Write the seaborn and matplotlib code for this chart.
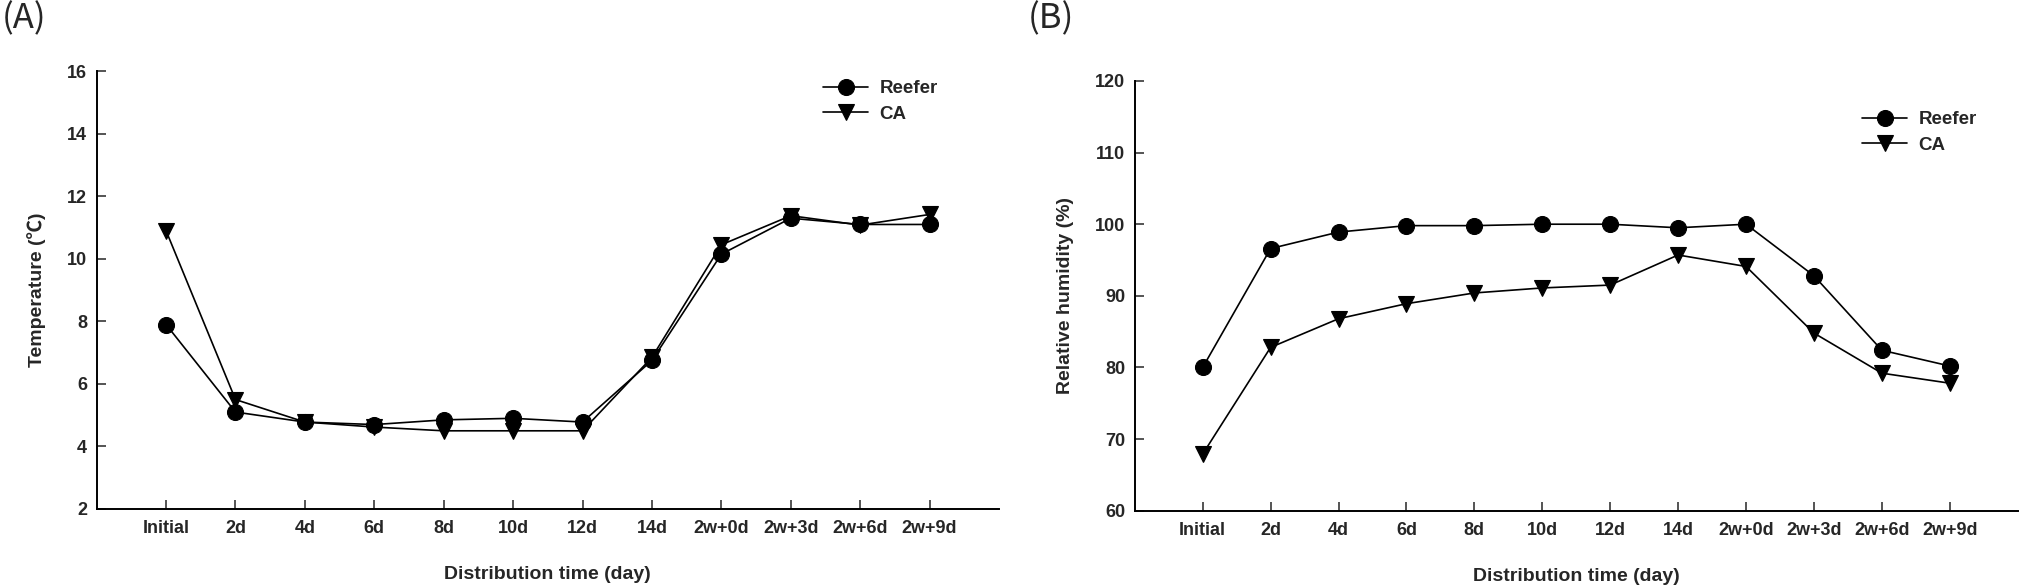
import numpy as np
import pandas as pd
import seaborn as sns
import matplotlib.pyplot as plt

# ----------------- Data -----------------
days = ['Initial', '2d', '4d', '6d', '8d', '10d', '12d', '14d',
        '2w+0d', '2w+3d', '2w+6d', '2w+9d']

# (A) temperature, deg C
temp_reefer = [7.9, 5.1, 4.78, 4.7, 4.85, 4.9, 4.78, 6.75, 10.15, 11.3, 11.1, 11.1]
temp_ca = [10.9, 5.5, 4.78, 4.62, 4.5, 4.5, 4.5, 6.85, 10.45, 11.38, 11.08, 11.42]

# (B) relative humidity, %
rh_reefer = [80.0, 96.6, 98.9, 99.8, 99.8, 100.0, 100.0, 99.5, 100.0, 92.8, 82.4, 80.2]
rh_ca = [67.9, 82.8, 86.8, 88.9, 90.4, 91.1, 91.5, 95.7, 94.1, 84.8, 79.2, 77.8]

temp_ticks = [2, 4, 6, 8, 10, 12, 14, 16]
rh_ticks = [60, 70, 80, 90, 100, 110, 120]

# ----------------- Style -----------------
sns.set_style('ticks')
plt.rcParams['font.family'] = ['Liberation Sans', 'Noto Sans CJK KR', 'DejaVu Sans']
plt.rcParams['font.weight'] = 'bold'

df_temp = pd.DataFrame({'day': days, 'Reefer': temp_reefer, 'CA': temp_ca})
df_rh = pd.DataFrame({'day': days, 'Reefer': rh_reefer, 'CA': rh_ca})

fig = plt.figure(figsize=(20.26, 5.88), dpi=100)
ax_a = fig.add_axes([0.0477, 0.1344, 0.4454, 0.7444])
ax_b = fig.add_axes([0.5601, 0.1315, 0.4358, 0.7308])

line_kw = dict(color='black', linewidth=1.2, markersize=11.5,
               markeredgecolor='black', markeredgewidth=0.8, sort=False)


def draw_panel(ax, df, ylabel, yticks, leg_xy):
    sns.lineplot(data=df, x='day', y='Reefer', marker='o', label='Reefer', ax=ax, **line_kw)
    sns.lineplot(data=df, x='day', y='CA', marker='v', label='CA', ax=ax, **line_kw)

    ax.set_xlim(-1, len(days))
    ax.set_ylim(yticks[0], yticks[-1])
    ax.set_yticks(yticks)
    ax.set_xlabel('Distribution time (day)', fontsize=14, fontweight='bold', labelpad=21)
    ax.set_ylabel(ylabel, fontsize=14, fontweight='bold', labelpad=15)
    ax.tick_params(direction='in', length=6.5, width=1.1, labelsize=13, pad=7)
    ax.tick_params(axis='x', pad=8)
    for lab in ax.get_xticklabels() + ax.get_yticklabels():
        lab.set_fontweight('bold')
    for side in ['top', 'right']:
        ax.spines[side].set_visible(False)
    for side in ['left', 'bottom']:
        ax.spines[side].set_linewidth(1.4)
        ax.spines[side].set_color('black')

    ax.legend(loc='upper left', bbox_to_anchor=leg_xy, frameon=False,
              prop={'size': 13.5, 'weight': 'bold'}, handlelength=2.4,
              handletextpad=0.6, labelspacing=0.45, borderpad=0, borderaxespad=0)


draw_panel(ax_a, df_temp, 'Temperature (\u2103)', temp_ticks, (0.805, 0.98))
draw_panel(ax_b, df_rh, 'Relative humidity (%)', rh_ticks, (0.824, 0.93))

fig.text(0.001, 0.998, '(A)', fontsize=25, fontweight='normal', va='top', ha='left',
         family=['Noto Sans CJK KR', 'DejaVu Sans'])
fig.text(0.5074, 0.998, '(B)', fontsize=25, fontweight='normal', va='top', ha='left',
         family=['Noto Sans CJK KR', 'DejaVu Sans'])

fig.savefig('out.png', dpi=100)
